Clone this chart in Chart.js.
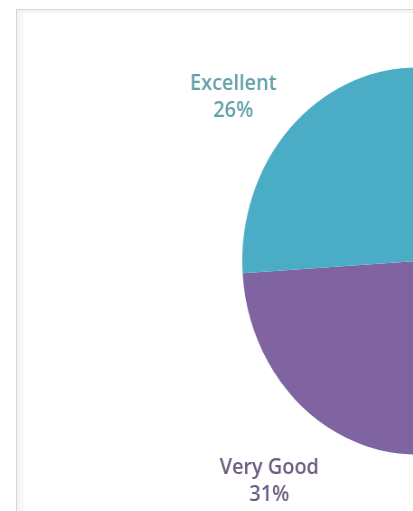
<!DOCTYPE html>
<html>
<head>
<meta charset="utf-8">
<script src="https://cdn.jsdelivr.net/npm/chart.js@4"></script>
<style>
  html, body { margin: 0; padding: 0; background: #fff; overflow: hidden; }
  body { width: 413px; height: 511px; position: relative; }
  .frame {
    position: absolute; left: 16px; top: 9px; width: 900px; height: 700px;
    border: 1px solid #d6d6d6;
    box-shadow: inset 3px 3px 0 #f4f4f4, inset 7px 0 0 #f8f8f8;
  }
  /* the source picture is a little narrower than it is tall */
  .wrap {
    position: absolute; left: 0; top: 0; width: 923px; height: 522px;
    transform: scaleX(0.904); transform-origin: 0 0;
  }
</style>
</head>
<body>
<div class="frame"></div>
<div class="wrap"><canvas id="pieChart"></canvas></div>
<script>
// Datos del gráfico (orden de Excel: empieza a las 12 en sentido horario)
const categorias = ['Poor', 'Fair', 'Good', 'Very Good', 'Excellent'];
const porcentajes = [5, 12, 26, 31, 26];
const colores = ['#4F81BD', '#C0504D', '#9BBB59', '#8064A2', '#4BACC6'];
const coloresTexto = ['#4F6A8F', '#8F4A48', '#6F8748', '#6B5C80', '#64A0AA'];

// Etiquetas fuera del sector: la esquina más cercana de la caja queda
// a "gap" px del borde, en la dirección del ángulo medio
const etiquetasFuera = {
    id: 'etiquetasFuera',
    afterDatasetsDraw(chart, args, opts) {
        const ctx = chart.ctx;
        const meta = chart.getDatasetMeta(0);
        const total = porcentajes.reduce((a, b) => a + b, 0);
        ctx.save();
        ctx.font = opts.font;
        ctx.textAlign = 'center';
        ctx.textBaseline = 'middle';
        meta.data.forEach((arc, i) => {
            const p = arc.getProps(['x', 'y', 'startAngle', 'endAngle', 'outerRadius'], true);
            const mid = (p.startAngle + p.endAngle) / 2;
            const cos = Math.cos(mid), sin = Math.sin(mid);
            const lineas = [categorias[i], Math.round(porcentajes[i] / total * 100) + '%'];
            const w = Math.max(...lineas.map(t => ctx.measureText(t).width));
            const h = opts.lineHeight * lineas.length;
            const r = p.outerRadius + opts.gap;
            const cx = p.x + r * cos + Math.sign(cos) * w / 2;
            const cy = p.y + r * sin + Math.sign(sin) * h / 2 + opts.offsetY;
            ctx.fillStyle = coloresTexto[i];
            lineas.forEach((t, k) => {
                ctx.fillText(t, cx, cy - h / 2 + opts.lineHeight * (k + 0.5));
            });
        });
        ctx.restore();
    }
};

new Chart(document.getElementById('pieChart').getContext('2d'), {
    type: 'pie',
    data: {
        labels: categorias,
        datasets: [{
            data: porcentajes,
            backgroundColor: colores,
            borderWidth: 0
        }]
    },
    options: {
        responsive: true,
        maintainAspectRatio: false,
        animation: false,
        layout: { padding: 67.5 },
        plugins: {
            legend: { display: false },
            tooltip: { enabled: false },
            etiquetasFuera: {
                font: '600 22px "Open Sans"',
                lineHeight: 27,
                gap: 20,
                offsetY: 9
            }
        }
    },
    plugins: [etiquetasFuera]
});
</script>
</body>
</html>
